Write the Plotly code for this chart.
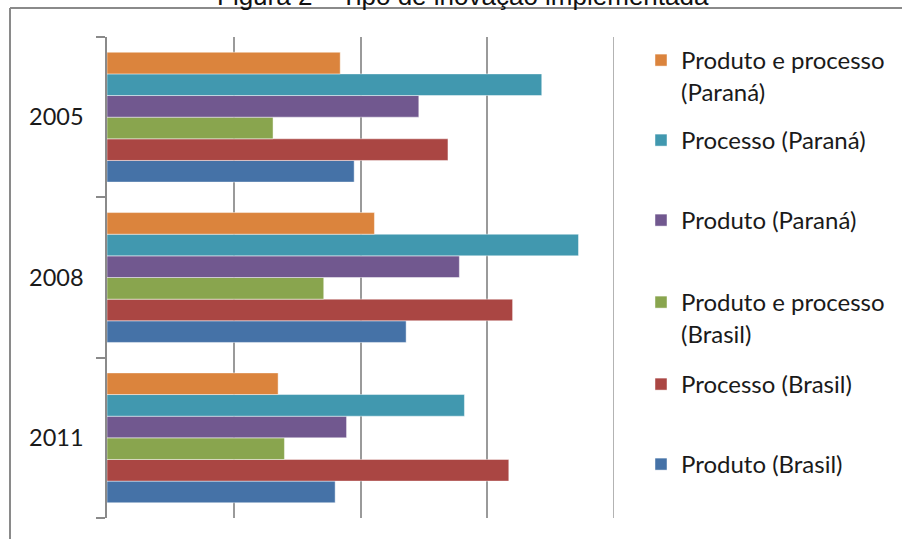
import plotly.graph_objects as go

categories = ["2011", "2008", "2005"]
series_names = [
    "Produto (Brasil)",
    "Processo (Brasil)",
    "Produto e processo<br>(Brasil)",
    "Produto (Paraná)",
    "Processo (Paraná)",
    "Produto e processo<br>(Paraná)",
]
colors = ["#4572A7", "#AA4643", "#89A54E", "#71588F", "#4198AF", "#DB843D"]

produto_brasil = [18.0, 23.6, 19.5]
processo_brasil = [31.7, 32.0, 26.9]
prod_proc_brasil = [14.0, 17.1, 13.1]
produto_parana = [18.9, 27.8, 24.6]
processo_parana = [28.2, 37.2, 34.3]
prod_proc_parana = [13.5, 21.1, 18.4]

values = [produto_brasil, processo_brasil, prod_proc_brasil,
          produto_parana, processo_parana, prod_proc_parana]

x_max = 40

# legend marker centre positions (pixels)
legend_centers = [464, 384, 302, 220, 140, 60]

W, H = 902, 539
L, R, T, B = 107, 614, 37, 518


def px_x(p):
    return (p - L) / (R - L)


def px_y(p):
    return (B - p) / (B - T)


fig = go.Figure()
legend_layouts = {}
for i, (name, vals, col) in enumerate(zip(series_names, values, colors)):
    lname = "legend" if i == 0 else f"legend{i + 1}"
    fig.add_trace(go.Bar(
        y=categories, x=vals, name=name, orientation="h",
        marker=dict(color=col, line=dict(color="rgba(255,255,255,0.45)", width=1)),
        legend=lname,
    ))
    legend_layouts[lname] = dict(
        x=px_x(641), xanchor="left",
        y=px_y(legend_centers[i] - 22), yanchor="top",
        valign="top",
        bgcolor="rgba(0,0,0,0)",
        font=dict(family="Lato", size=24, color="#1a1a1a"),
        itemclick=False, itemdoubleclick=False,
    )

fig.update_layout(
    width=W, height=H,
    margin=dict(l=L, r=W - R, t=T, b=H - B, pad=0),
    paper_bgcolor="white", plot_bgcolor="white",
    barmode="group", bargap=0.19, bargroupgap=0,
    showlegend=True,
    xaxis=dict(range=[0, x_max], dtick=10, showgrid=True, gridcolor="#9a9a9a",
               gridwidth=1.5, showticklabels=False, ticks="", zeroline=False,
               showline=False, fixedrange=True),
    yaxis=dict(categoryorder="array", categoryarray=categories,
               showline=True, linecolor="#8a8a8a", linewidth=1.5,
               ticks="outside", ticklen=9, tickwidth=1.5, tickcolor="#8a8a8a",
               tickson="boundaries", ticklabelstandoff=17,
               tickfont=dict(family="Lato", size=23.5, color="#1a1a1a"),
               showgrid=False, fixedrange=True),
    font=dict(family="Lato"),
    **legend_layouts,
)

# last gridline at the right edge of the value range
fig.add_shape(type="line", xref="x", yref="paper", x0=x_max, x1=x_max, y0=0, y1=1,
              line=dict(color="#9a9a9a", width=1.5), layer="below")

# outer frame (top and left edges visible)
fig.add_shape(type="line", xref="paper", yref="paper",
              x0=px_x(10), x1=px_x(905), y0=px_y(8), y1=px_y(8),
              line=dict(color="#8a8a8a", width=2))
fig.add_shape(type="line", xref="paper", yref="paper",
              x0=px_x(10), x1=px_x(10), y0=px_y(8), y1=px_y(545),
              line=dict(color="#8a8a8a", width=2))

fig.add_annotation(text="Figura 2 – Tipo de inovação implementada",
                   xref="paper", yref="paper", x=px_x(463), y=px_y(-4),
                   xanchor="center", yanchor="middle", showarrow=False,
                   font=dict(family="Liberation Sans", size=26, color="#111"))

fig.write_html("out.html")
